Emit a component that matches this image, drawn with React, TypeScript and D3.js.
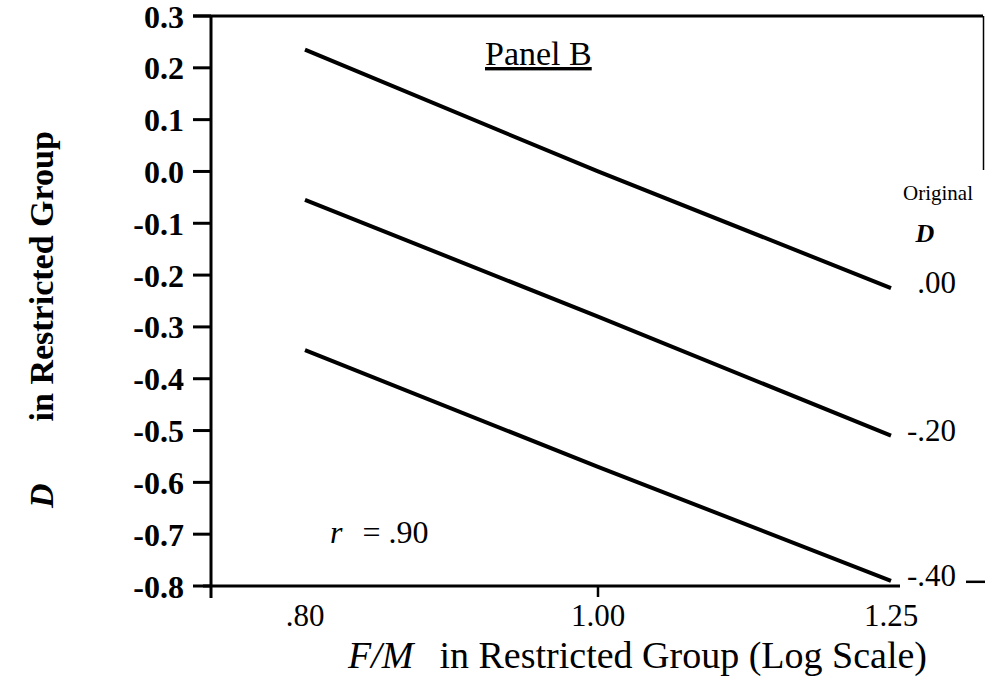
import * as d3 from 'd3';
import * as React from 'react';

// F/M ratio in the restricted group (log scale)
const fmValues = [0.8, 1.0, 1.25];
const xTickValues = [0.8, 1.0, 1.25];
const xTickLabels = ['.80', '1.00', '1.25'];

const yTickValues = [0.3, 0.2, 0.1, 0.0, -0.1, -0.2, -0.3, -0.4, -0.5, -0.6, -0.7, -0.8];

// D in restricted group, one series per original D
const dOrig000 = [0.235, 0.0, -0.225];
const dOrig020 = [-0.055, -0.28, -0.51];
const dOrig040 = [-0.345, -0.57, -0.79];
const seriesLabels = ['.00', '-.20', '-.40'];

const W = 985;
const H = 687;
const serif = '"Liberation Serif", "DejaVu Serif", serif';

const App = () => {
  const x = React.useMemo(() => d3.scaleLog().domain([0.8, 1.25]).range([305, 891]), []);
  const y = React.useMemo(() => d3.scaleLinear().domain([-0.8, 0.3]).range([586, 16]), []);

  const series = [dOrig000, dOrig020, dOrig040];
  const line = d3
    .line<[number, number]>()
    .x((d) => x(d[0]))
    .y((d) => y(d[1]));

  const axisX = 211;
  const axisY = y(-0.8);

  return (
    <div style={{ position: 'absolute', left: 0, top: 0 }}>
      <svg width={W} height={H} style={{ display: 'block', background: '#fff' }} fontFamily={serif}>
        {/* frame top + right edge */}
        <line x1={193} x2={983} y1={y(0.3)} y2={y(0.3)} stroke="#000" strokeWidth={3} />
        <line x1={983.5} x2={983.5} y1={y(0.3)} y2={170} stroke="#000" strokeWidth={1.5} />

        {/* y axis */}
        <line x1={axisX} x2={axisX} y1={y(0.3)} y2={axisY + 12} stroke="#000" strokeWidth={3} />
        {yTickValues.map((v) => (
          <g key={v}>
            <line x1={193} x2={axisX} y1={y(v)} y2={y(v)} stroke="#000" strokeWidth={3} />
            <text
              x={184}
              y={y(v)}
              dy="0.36em"
              textAnchor="end"
              fontSize={32}
              fontWeight="bold"
            >
              {d3.format('.1f')(v).replace('−', '-')}
            </text>
          </g>
        ))}

        {/* x axis */}
        <line x1={203} x2={900} y1={axisY} y2={axisY} stroke="#000" strokeWidth={3} />
        <line x1={x(1.0)} x2={x(1.0)} y1={axisY} y2={axisY + 11} stroke="#000" strokeWidth={2.5} />
        {xTickValues.map((v, i) => (
          <text key={v} x={x(v)} y={626} textAnchor="middle" fontSize={31}>
            {xTickLabels[i]}
          </text>
        ))}

        {/* lines */}
        {series.map((s, i) => (
          <path
            key={i}
            d={line(fmValues.map((f, j) => [f, s[j]] as [number, number])) || ''}
            fill="none"
            stroke="#000"
            strokeWidth={4}
          />
        ))}
        {series.map((s, i) => (
          <text
            key={'l' + i}
            x={x(1.25) + 65}
            y={y(s[s.length - 1]) + 5}
            textAnchor="end"
            fontSize={31}
          >
            {seriesLabels[i]}
          </text>
        ))}
        <line
          x1={966}
          x2={985}
          y1={y(dOrig040[dOrig040.length - 1]) + 1}
          y2={y(dOrig040[dOrig040.length - 1]) + 1}
          stroke="#000"
          strokeWidth={2.5}
        />

        {/* legend title */}
        <text x={938} y={200} textAnchor="middle" fontSize={21}>
          Original
        </text>
        <text x={925} y={242} textAnchor="middle" fontSize={26} fontStyle="italic" fontWeight="bold">
          D
        </text>

        {/* panel label */}
        <text x={485} y={65} fontSize={34} textDecoration="underline">
          Panel B
        </text>

        {/* r = .90 */}
        <text x={330} y={543} fontSize={32}>
          <tspan fontStyle="italic">r</tspan>
          <tspan dx={20}>= .90</tspan>
        </text>

        {/* x title */}
        <text x={348} y={668} fontSize={38}>
          <tspan fontStyle="italic">F/M</tspan>
          <tspan dx={26}>in Restricted Group (Log Scale)</tspan>
        </text>

        {/* y title */}
        <text transform="translate(53, 508) rotate(-90)" fontSize={34} fontWeight="bold">
          <tspan fontStyle="italic">D</tspan>
          <tspan dx={62}>in Restricted Group</tspan>
        </text>
      </svg>
    </div>
  );
};

export default App;
